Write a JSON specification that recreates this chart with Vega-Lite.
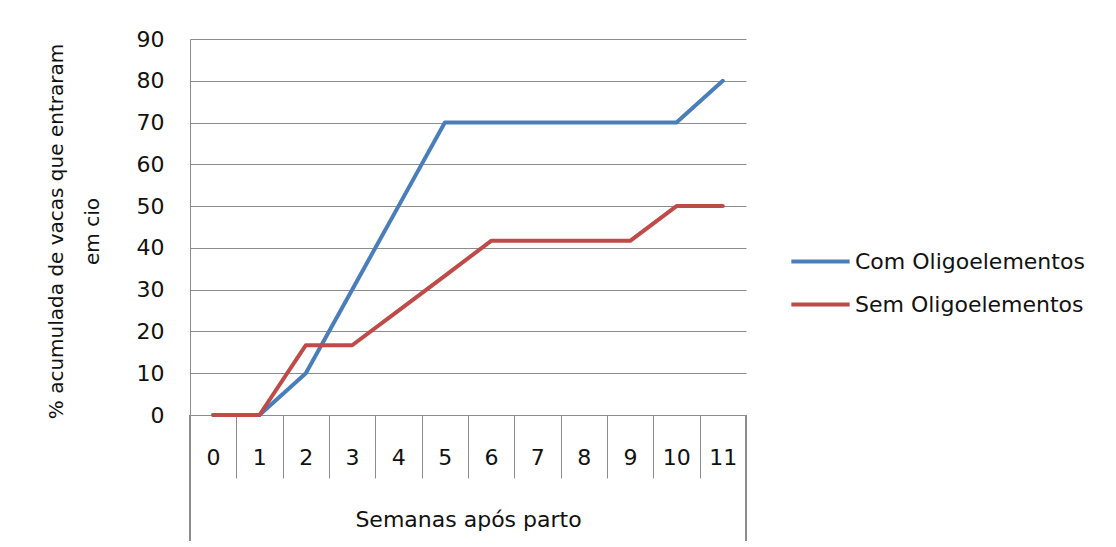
{
  "$schema": "https://vega.github.io/schema/vega-lite/v6.json",
  "width": 556,
  "height": 376,
  "autosize": {"type": "none"},
  "padding": {"left": 190, "top": 39, "right": 370, "bottom": 132},
  "background": "white",
  "config": {
    "view": {"stroke": null},
    "font": "DejaVu Sans",
    "axis": {"labelFont": "DejaVu Sans", "titleFont": "DejaVu Sans", "labelColor": "#111111", "titleColor": "#111111"}
  },
  "data": {
    "values": [
      {"semana": 0, "serie": "Com Oligoelementos", "pct": 0},
      {"semana": 1, "serie": "Com Oligoelementos", "pct": 0},
      {"semana": 2, "serie": "Com Oligoelementos", "pct": 10},
      {"semana": 3, "serie": "Com Oligoelementos", "pct": 30},
      {"semana": 4, "serie": "Com Oligoelementos", "pct": 50},
      {"semana": 5, "serie": "Com Oligoelementos", "pct": 70},
      {"semana": 6, "serie": "Com Oligoelementos", "pct": 70},
      {"semana": 7, "serie": "Com Oligoelementos", "pct": 70},
      {"semana": 8, "serie": "Com Oligoelementos", "pct": 70},
      {"semana": 9, "serie": "Com Oligoelementos", "pct": 70},
      {"semana": 10, "serie": "Com Oligoelementos", "pct": 70},
      {"semana": 11, "serie": "Com Oligoelementos", "pct": 80},
      {"semana": 0, "serie": "Sem Oligoelementos", "pct": 0},
      {"semana": 1, "serie": "Sem Oligoelementos", "pct": 0},
      {"semana": 2, "serie": "Sem Oligoelementos", "pct": 16.7},
      {"semana": 3, "serie": "Sem Oligoelementos", "pct": 16.7},
      {"semana": 4, "serie": "Sem Oligoelementos", "pct": 25},
      {"semana": 5, "serie": "Sem Oligoelementos", "pct": 33.3},
      {"semana": 6, "serie": "Sem Oligoelementos", "pct": 41.7},
      {"semana": 7, "serie": "Sem Oligoelementos", "pct": 41.7},
      {"semana": 8, "serie": "Sem Oligoelementos", "pct": 41.7},
      {"semana": 9, "serie": "Sem Oligoelementos", "pct": 41.7},
      {"semana": 10, "serie": "Sem Oligoelementos", "pct": 50},
      {"semana": 11, "serie": "Sem Oligoelementos", "pct": 50}
    ]
  },
  "encoding": {
    "x": {
      "field": "semana",
      "type": "quantitative",
      "scale": {"domain": [-0.5, 11.5], "nice": false, "zero": false},
      "axis": {
        "values": [-0.5, 0.5, 1.5, 2.5, 3.5, 4.5, 5.5, 6.5, 7.5, 8.5, 9.5, 10.5, 11.5],
        "labelExpr": "datum.value < 11 ? format(datum.value + 0.5, 'd') : ''",
        "labelOffset": 23,
        "labelFontSize": 22,
        "labelBaseline": "middle",
        "labelPadding": -21,
        "labelFlush": false,
        "labelOverlap": false,
        "tickSize": 63,
        "tickColor": "#8c8c8c",
        "tickWidth": 1,
        "domain": false,
        "grid": false,
        "title": "Semanas após parto",
        "titleFontSize": 22,
        "titleFontWeight": "normal",
        "titleBaseline": "middle",
        "titleY": 104
      }
    },
    "y": {
      "field": "pct",
      "type": "quantitative",
      "scale": {"domain": [0, 90], "nice": false},
      "axis": {
        "values": [0, 10, 20, 30, 40, 50, 60, 70, 80, 90],
        "labelFontSize": 22,
        "labelPadding": 26,
        "ticks": false,
        "domain": true,
        "domainColor": "#8c8c8c",
        "grid": true,
        "gridColor": "#8c8c8c",
        "gridOpacity": 1,
        "title": ["% acumulada de vacas que entraram", "em cio"],
        "titleFontSize": 20,
        "titleFontWeight": 500,
        "titleLineHeight": 36,
        "titleX": -124,
        "titleY": 192
      }
    }
  },
  "layer": [
    {
      "mark": {"type": "rule", "color": "#8c8c8c", "strokeWidth": 1, "clip": false},
      "encoding": {
        "x": {"datum": -0.5},
        "y": {"datum": 0},
        "y2": {"datum": -30}
      }
    },
    {
      "mark": {"type": "rule", "color": "#8c8c8c", "strokeWidth": 1, "clip": false},
      "encoding": {
        "x": {"datum": 11.5},
        "y": {"datum": 0},
        "y2": {"datum": -30}
      }
    },
    {
      "mark": {"type": "line", "strokeWidth": 4, "strokeCap": "round", "strokeJoin": "round"},
      "encoding": {
        "color": {
          "field": "serie",
          "type": "nominal",
          "scale": {"domain": ["Com Oligoelementos", "Sem Oligoelementos"], "range": ["#4A7EBB", "#BE4B48"]},
          "legend": {
            "title": null,
            "orient": "none",
            "legendX": 599,
            "legendY": 191,
            "symbolType": "stroke",
            "symbolSize": 3400,
            "symbolStrokeWidth": 4,
            "labelFontSize": 22,
            "labelFont": "DejaVu Sans",
            "labelColor": "#111111",
            "labelOffset": 3,
            "rowPadding": -14,
            "labelLimit": 400
          }
        }
      }
    }
  ]
}
